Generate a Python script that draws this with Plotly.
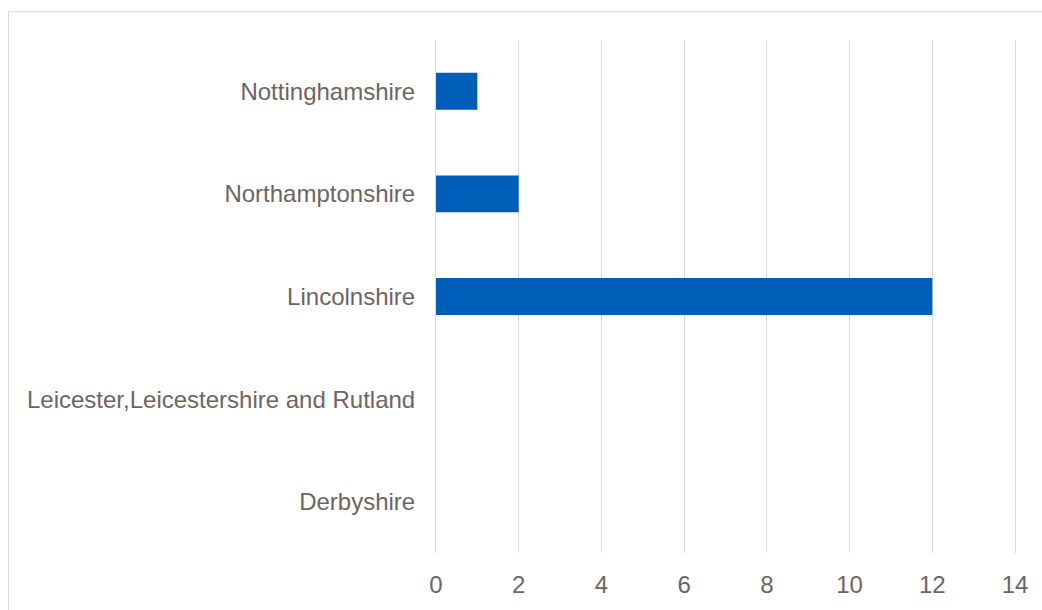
import plotly.graph_objects as go

categories = ["Derbyshire", "Leicester,Leicestershire and Rutland", "Lincolnshire",
              "Northamptonshire", "Nottinghamshire"]
values = [0, 0, 12, 2, 1]
x_ticks = [0, 2, 4, 6, 8, 10, 12, 14]

W, H = 1042, 610
L, R, T, B = 436, 27, 40, 53
pw, ph = W - L - R, H - T - B

grid_col = "#d9d9d9"
text_col = "#6e6466"

fig = go.Figure(go.Bar(
    y=categories, x=values, orientation="h",
    marker=dict(color="#005EB8", line=dict(width=0)),
    width=0.36,
))

fig.update_layout(
    width=W, height=H,
    margin=dict(l=L, r=R, t=T, b=B, pad=0),
    paper_bgcolor="white", plot_bgcolor="white",
    font=dict(family="Liberation Sans, Arial, sans-serif", size=24, color=text_col),
    showlegend=False,
    xaxis=dict(range=[0, 14], tickvals=x_ticks, showgrid=True, gridcolor=grid_col,
               gridwidth=1, zeroline=False, showline=False, ticks="",
               ticklabelstandoff=15, tickfont=dict(size=24, color=text_col)),
    yaxis=dict(categoryorder="array", categoryarray=categories, showgrid=False,
               zeroline=False, showline=True, mirror=True, linecolor=grid_col,
               linewidth=1, ticks="", ticklabelstandoff=15,
               tickfont=dict(size=24, color=text_col), layer="below traces"),
    shapes=[dict(type="rect", xref="paper", yref="paper",
                 x0=(8.5 - L) / pw, x1=(W + 5 - L) / pw,
                 y0=(H - B - (H + 5)) / ph, y1=(H - B - 11.5) / ph,
                 line=dict(color=grid_col, width=1), fillcolor="rgba(0,0,0,0)",
                 layer="below")],
)

fig.write_html(
    "out.html",
    config={"displayModeBar": False},
    post_script="document.body.style.margin='0';document.body.style.overflow='hidden';",
)
